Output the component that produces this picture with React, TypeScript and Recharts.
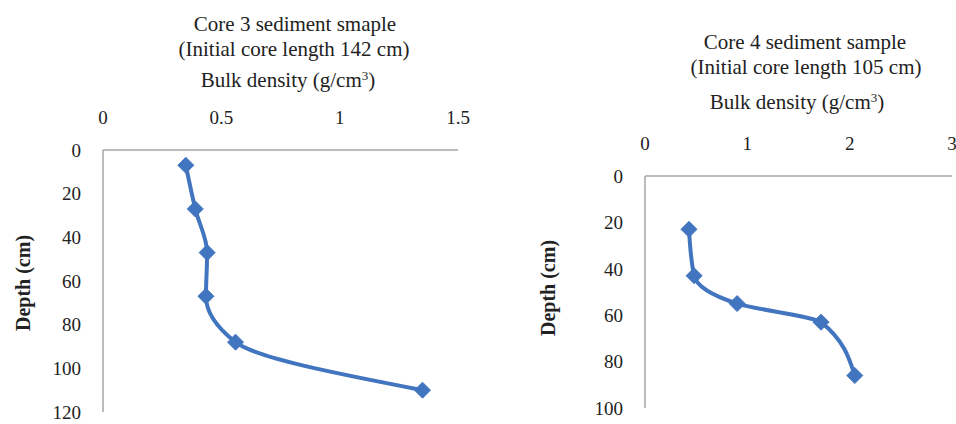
import React from "react";
import { LineChart, Line, XAxis, YAxis } from "recharts";

const core3Depth = [7, 27, 47, 67, 88, 110];
const core3Density = [0.35, 0.39, 0.44, 0.435, 0.56, 1.35];
const core3XTicks = [0, 0.5, 1, 1.5];
const core3YTicks = [0, 20, 40, 60, 80, 100, 120];

const core4Depth = [23, 43, 55, 63, 86];
const core4Density = [0.43, 0.48, 0.9, 1.72, 2.05];
const core4XTicks = [0, 1, 2, 3];
const core4YTicks = [0, 20, 40, 60, 80, 100];

const core3Data = core3Depth.map((d, i) => ({ depth: d, bd: core3Density[i] }));
const core4Data = core4Depth.map((d, i) => ({ depth: d, bd: core4Density[i] }));

const FONT = "'Liberation Serif', 'Times New Roman', serif";
const BLUE = "#4275BF";
const AXIS = "#A6A6A6";

const Diamond = (props: any) => {
  const { cx, cy, index } = props;
  if (cx == null || cy == null) return null;
  const r = 8;
  return (
    <polygon
      key={`d-${index}`}
      points={`${cx},${cy - r} ${cx + r},${cy} ${cx},${cy + r} ${cx - r},${cy}`}
      fill={BLUE}
      stroke={BLUE}
    />
  );
};

const tickStyle = { fontFamily: FONT, fontSize: 19, fill: "#222" };

function Panel(props: {
  data: any[];
  width: number;
  xDomain: number[];
  xTicks: number[];
  yDomain: number[];
  yTicks: number[];
  margin: any;
}) {
  return (
    <LineChart
      width={props.width}
      height={424}
      data={props.data}
      layout="vertical"
      margin={props.margin}
    >
      <XAxis
        type="number"
        orientation="top"
        domain={props.xDomain}
        ticks={props.xTicks}
        height={40}
        tickLine={false}
        tickSize={0}
        tickMargin={26}
        axisLine={{ stroke: AXIS, strokeWidth: 1.5 }}
        tick={tickStyle}
        allowDataOverflow
        interval={0}
      />
      <YAxis
        type="number"
        dataKey="depth"
        domain={props.yDomain}
        ticks={props.yTicks}
        width={60}
        tickLine={false}
        tickSize={0}
        tickMargin={22}
        axisLine={{ stroke: AXIS, strokeWidth: 1.5 }}
        tick={tickStyle}
        interval={0}
      />
      <Line
        type="monotone"
        dataKey="bd"
        stroke={BLUE}
        strokeWidth={4}
        dot={Diamond}
        activeDot={false}
        isAnimationActive={false}
      />
    </LineChart>
  );
}

const textBase: React.CSSProperties = {
  position: "absolute",
  fontFamily: FONT,
  fontSize: 21,
  color: "#222",
  whiteSpace: "nowrap",
  lineHeight: "21px",
  transform: "translate(-50%, -50%)",
};

const Label = ({ x, y, children, style }: any) => (
  <div style={{ ...textBase, left: x, top: y, ...style }}>{children}</div>
);

const Bulk = () => (
  <span>
    Bulk density (g/cm<sup style={{ fontSize: 13, verticalAlign: "7px", lineHeight: 0 }}>3</sup>)
  </span>
);

export default function App() {
  return (
    <div
      style={{
        position: "absolute",
        left: 0,
        top: 0,
        width: 956,
        height: 424,
        background: "#fff",
        overflow: "hidden",
      }}
    >
      <div style={{ position: "absolute", left: 0, top: 0 }}>
        <Panel
          data={core3Data}
          width={480}
          xDomain={[0, 1.5]}
          xTicks={core3XTicks}
          yDomain={[0, 120]}
          yTicks={core3YTicks}
          margin={{ top: 110, left: 43, right: 22, bottom: 12 }}
        />
      </div>
      <div style={{ position: "absolute", left: 480, top: 0 }}>
        <Panel
          data={core4Data}
          width={476}
          xDomain={[0, 3]}
          xTicks={core4XTicks}
          yDomain={[0, 100]}
          yTicks={core4YTicks}
          margin={{ top: 136, left: 105, right: 4, bottom: 16 }}
        />
      </div>
      <Label x={295} y={24}>Core 3 sediment smaple</Label>
      <Label x={294} y={49}>(Initial core length 142 cm)</Label>
      <Label x={288} y={80}><Bulk /></Label>
      <Label x={23} y={283} style={{ transform: "translate(-50%, -50%) rotate(-90deg)", fontWeight: "bold", fontSize: 20 }}>
        Depth (cm)
      </Label>
      <Label x={805} y={42}>Core 4 sediment sample</Label>
      <Label x={806} y={67}>(Initial core length 105 cm)</Label>
      <Label x={797} y={102}><Bulk /></Label>
      <Label x={548} y={288} style={{ transform: "translate(-50%, -50%) rotate(-90deg)", fontWeight: "bold", fontSize: 20 }}>
        Depth (cm)
      </Label>
    </div>
  );
}
